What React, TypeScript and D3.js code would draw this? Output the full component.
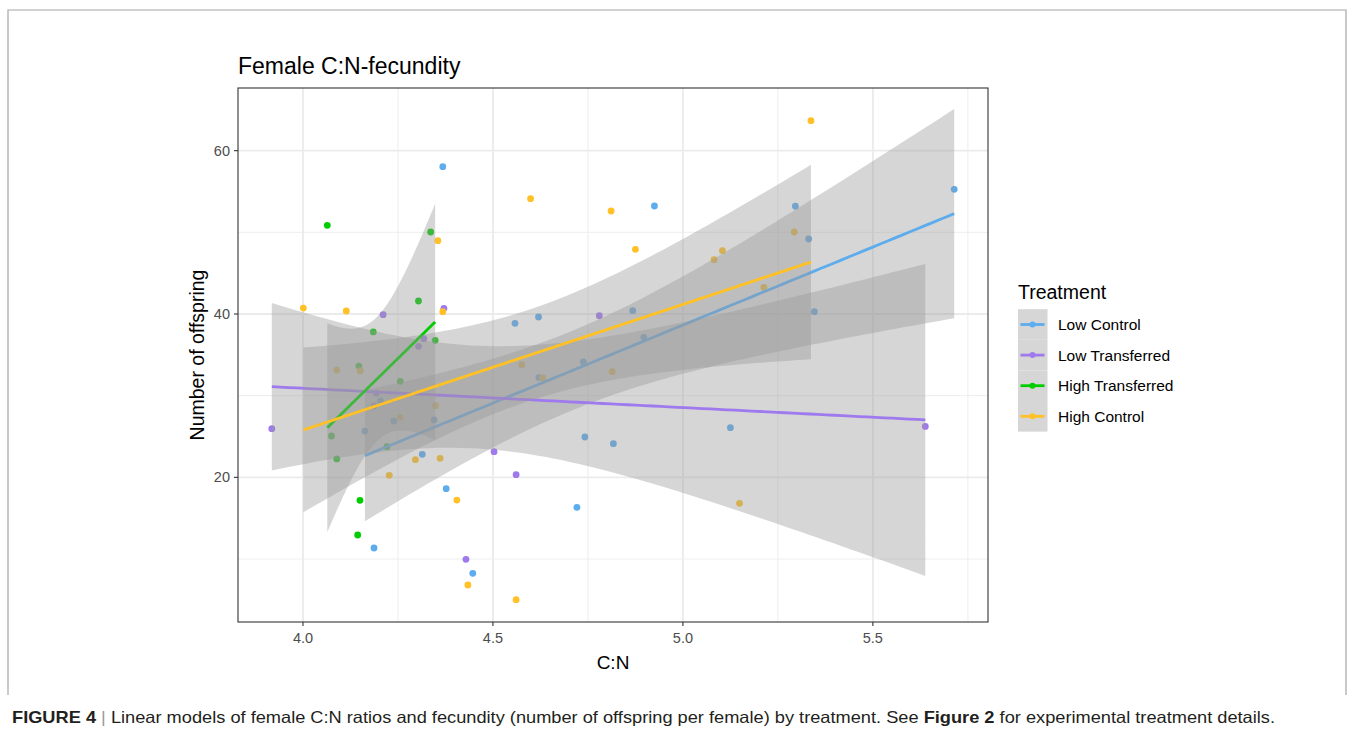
import React from "react";
import * as d3 from "d3";

const groups = ["Low Control", "Low Transferred", "High Transferred", "High Control"];
const colors = ["#5CACEE", "#9F79EE", "#00CD00", "#FFC125"];

const lowControlX = [4.368, 4.204, 4.163, 4.239, 4.345, 4.314, 4.377, 4.187, 4.447, 4.925, 4.558, 4.620, 4.868, 4.897, 4.738, 4.621, 5.125, 4.742, 4.817, 4.721, 5.714, 5.296, 5.331, 5.346];
const lowControlY = [58.04, 29.35, 25.67, 26.90, 27.02, 22.82, 18.61, 11.35, 8.25, 53.22, 38.86, 39.63, 40.41, 37.14, 34.12, 32.21, 26.08, 24.94, 24.12, 16.33, 55.27, 53.19, 49.18, 40.29];

const lowTransX = [4.211, 4.371, 4.318, 4.304, 4.193, 4.187, 3.918, 4.503, 4.429, 4.780, 4.561, 5.638];
const lowTransY = [39.92, 40.69, 36.98, 36.04, 30.29, 28.74, 25.96, 23.14, 9.96, 39.80, 20.33, 26.24];

const highTransX = [4.064, 4.336, 4.304, 4.185, 4.348, 4.147, 4.256, 4.075, 4.089, 4.221, 4.150, 4.144];
const highTransY = [50.86, 50.04, 41.59, 37.80, 36.78, 33.63, 31.76, 25.06, 22.25, 23.76, 17.19, 12.94];

const highControlX = [4.355, 4.001, 4.114, 4.368, 4.089, 4.151, 4.349, 4.256, 4.296, 4.361, 4.227, 4.405, 4.434, 4.599, 4.811, 4.875, 5.104, 5.082, 4.576, 4.631, 4.814, 5.149, 4.561, 5.337, 5.293, 5.213];
const highControlY = [48.98, 40.73, 40.37, 40.29, 33.14, 33.02, 28.77, 27.35, 22.16, 22.33, 20.25, 17.22, 6.82, 54.12, 52.61, 47.92, 47.75, 46.65, 33.80, 32.17, 32.94, 16.82, 5.02, 63.67, 50.04, 43.26];

const seriesX = [lowControlX, lowTransX, highTransX, highControlX];
const seriesY = [lowControlY, lowTransY, highTransY, highControlY];

const xTicks = [4.0, 4.5, 5.0, 5.5];
const xMinor = [4.25, 4.75, 5.25, 5.75];
const yTicks = [20, 40, 60];
const yMinor = [10, 30, 50];

const panel = { left: 238, right: 988, top: 88, bottom: 622 };

function tQuant(df: number) {
  const z = 1.959964;
  return z + (z ** 3 + z) / (4 * df) + (5 * z ** 5 + 16 * z ** 3 + 3 * z) / (96 * df * df) +
    (3 * z ** 7 + 19 * z ** 5 + 17 * z ** 3 - 15 * z) / (384 * df ** 3);
}

function fit(xs: number[], ys: number[]) {
  const n = xs.length;
  const mx = d3.mean(xs)!;
  const my = d3.mean(ys)!;
  let sxx = 0, sxy = 0;
  for (let i = 0; i < n; i++) { sxx += (xs[i] - mx) ** 2; sxy += (xs[i] - mx) * (ys[i] - my); }
  const b = sxy / sxx;
  const a = my - b * mx;
  let sse = 0;
  for (let i = 0; i < n; i++) sse += (ys[i] - a - b * xs[i]) ** 2;
  const s = Math.sqrt(sse / (n - 2));
  const t = tQuant(n - 2);
  const [x0, x1] = d3.extent(xs) as [number, number];
  return d3.range(80).map(i => {
    const xv = x0 + (x1 - x0) * i / 79;
    const yhat = a + b * xv;
    const se = s * Math.sqrt(1 / n + (xv - mx) ** 2 / sxx);
    return { x: xv, y: yhat, lo: yhat - t * se, hi: yhat + t * se };
  });
}

export default function App() {
  const x = d3.scaleLinear().domain([3.829, 5.803]).range([panel.left, panel.right]);
  const y = d3.scaleLinear().domain([2.29, 67.67]).range([panel.bottom, panel.top]);
  const line = d3.line<any>().x(d => x(d.x)).y(d => y(d.y));
  const area = d3.area<any>().x(d => x(d.x)).y0(d => y(d.lo)).y1(d => y(d.hi));
  const fits = seriesX.map((xs, i) => fit(xs, seriesY[i]));
  const font = "'Liberation Sans', Arial, sans-serif";

  return (
    <svg width={1354} height={729} style={{ position: "absolute", left: 0, top: 0, background: "#fff" }} fontFamily={font}>
      <path d="M8,695 L8,10 L1346,10 L1346,695" fill="none" stroke="#a6a6a6" strokeWidth={1.2} />
      <text x={238} y={74} fontSize={23} fill="#000">Female C:N-fecundity</text>
      <defs>
        <clipPath id="pc"><rect x={panel.left} y={panel.top} width={panel.right - panel.left} height={panel.bottom - panel.top} /></clipPath>
      </defs>
      <rect x={panel.left} y={panel.top} width={panel.right - panel.left} height={panel.bottom - panel.top} fill="#fff" />
      <g clipPath="url(#pc)">
        {xMinor.map(v => <line key={"xm" + v} x1={x(v)} x2={x(v)} y1={panel.top} y2={panel.bottom} stroke="#EBEBEB" strokeWidth={0.9} />)}
        {yMinor.map(v => <line key={"ym" + v} y1={y(v)} y2={y(v)} x1={panel.left} x2={panel.right} stroke="#EBEBEB" strokeWidth={0.9} />)}
        {xTicks.map(v => <line key={"xg" + v} x1={x(v)} x2={x(v)} y1={panel.top} y2={panel.bottom} stroke="#EBEBEB" strokeWidth={1.8} />)}
        {yTicks.map(v => <line key={"yg" + v} y1={y(v)} y2={y(v)} x1={panel.left} x2={panel.right} stroke="#EBEBEB" strokeWidth={1.8} />)}
        {seriesX.map((xs, gi) => xs.map((xv, i) => (
          <circle key={gi + "-" + i} cx={x(xv)} cy={y(seriesY[gi][i])} r={3.4} fill={colors[gi]} />
        )))}
        {fits.map((f, gi) => (
          <g key={"f" + gi}>
            <path d={area(f)!} fill="#999999" fillOpacity={0.4} />
            <path d={line(f)!} fill="none" stroke={colors[gi]} strokeWidth={2.8} />
          </g>
        ))}
      </g>
      <rect x={panel.left} y={panel.top} width={panel.right - panel.left} height={panel.bottom - panel.top} fill="none" stroke="#333333" strokeWidth={1.1} />
      {xTicks.map(v => (
        <g key={"xt" + v}>
          <line x1={x(v)} x2={x(v)} y1={panel.bottom} y2={panel.bottom + 4} stroke="#333333" strokeWidth={1.1} />
          <text x={x(v)} y={panel.bottom + 21} textAnchor="middle" fontSize={14.5} fill="#4D4D4D">{v.toFixed(1)}</text>
        </g>
      ))}
      {yTicks.map(v => (
        <g key={"yt" + v}>
          <line x1={panel.left - 4} x2={panel.left} y1={y(v)} y2={y(v)} stroke="#333333" strokeWidth={1.1} />
          <text x={panel.left - 8} y={y(v) + 5} textAnchor="end" fontSize={14.5} fill="#4D4D4D">{v}</text>
        </g>
      ))}
      <text x={(panel.left + panel.right) / 2} y={669} textAnchor="middle" fontSize={19} fill="#000">C:N</text>
      <text transform={`translate(204,${(panel.top + panel.bottom) / 2}) rotate(-90)`} textAnchor="middle" fontSize={19.5} fill="#000">Number of offspring</text>

      <text x={1018} y={299} fontSize={19.5} fill="#000">Treatment</text>
      {groups.map((g, i) => {
        const cy = 324.5 + i * 30.6;
        return (
          <g key={g}>
            <rect x={1018} y={cy - 15.3} width={29.5} height={30.6} fill="#D6D6D6" />
            <line x1={1020.5} x2={1044.5} y1={cy} y2={cy} stroke={colors[i]} strokeWidth={2.8} />
            <circle cx={1032.5} cy={cy} r={3} fill={colors[i]} />
            <text x={1058} y={cy + 5.5} fontSize={15.5} fill="#000">{g}</text>
          </g>
        );
      })}

      <text x={12} y={723} fontSize={16.5} fill="#231F20" fontFamily="'Liberation Sans Narrow', 'Arial Narrow', 'Liberation Sans', sans-serif" textLength={1263} lengthAdjust="spacingAndGlyphs">
        <tspan fontWeight="bold">FIGURE 4</tspan>
        <tspan fill="#999"> | </tspan>
        <tspan>Linear models of female C:N ratios and fecundity (number of offspring per female) by treatment. See </tspan>
        <tspan fontWeight="bold">Figure 2</tspan>
        <tspan> for experimental treatment details.</tspan>
      </text>
    </svg>
  );
}
